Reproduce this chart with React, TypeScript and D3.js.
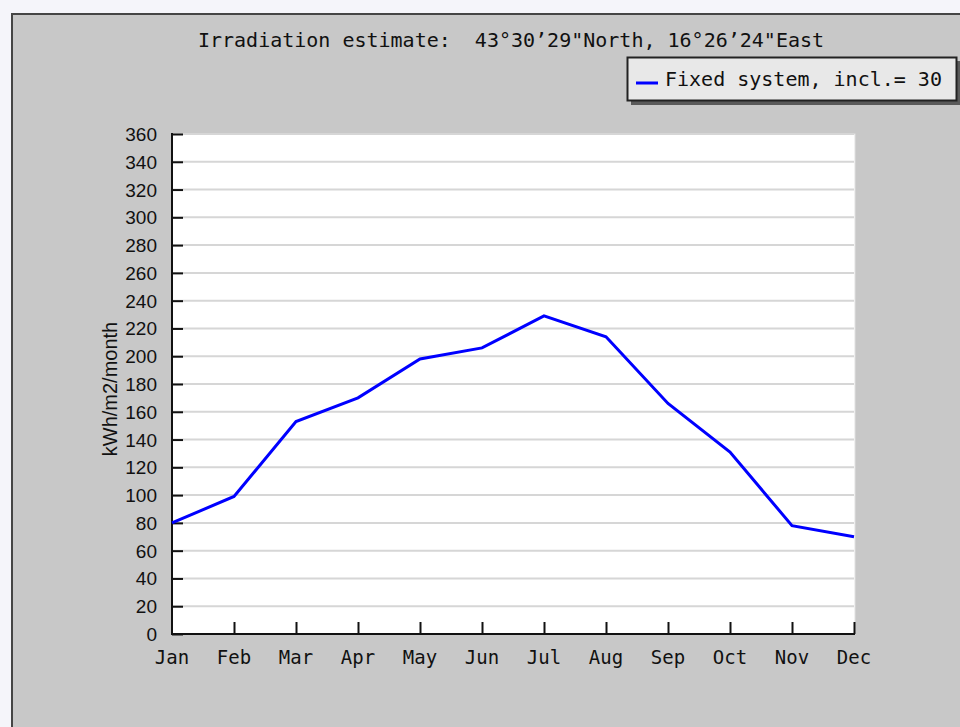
import React, { useEffect, useRef } from "react";
import * as d3 from "d3";

const months = ["Jan", "Feb", "Mar", "Apr", "May", "Jun", "Jul", "Aug", "Sep", "Oct", "Nov", "Dec"];
const irradiation = [80, 99, 153, 170, 198, 206, 229, 214, 166, 131, 78, 70];
const yTicks = d3.range(0, 361, 20);
const title = "Irradiation estimate:  43°30’29\"North, 16°26’24\"East";
const legendLabel = "Fixed system, incl.= 30";
const yLabel = "kWh/m2/month";

export default function App() {
  const ref = useRef<SVGSVGElement>(null);

  useEffect(() => {
    const svg = d3.select(ref.current);
    svg.selectAll("*").remove();

    const left = 172, right = 854, top = 134, bottom = 634;
    const x = d3.scalePoint().domain(months).range([left, right]);
    const y = d3.scaleLinear().domain([0, 360]).range([bottom, top]);

    // page + frame
    svg.append("rect").attr("width", 960).attr("height", 727).attr("fill", "#f5f5fa");
    svg.append("rect")
      .attr("x", 12).attr("y", 14).attr("width", 1000).attr("height", 800)
      .attr("fill", "#c8c8c8").attr("stroke", "#454545").attr("stroke-width", 2);

    // title
    svg.append("text")
      .attr("x", 511).attr("y", 47)
      .attr("text-anchor", "middle")
      .attr("font-family", "DejaVu Sans Mono")
      .attr("font-size", 20)
      .attr("fill", "#111")
      .style("white-space", "pre")
      .text(title);

    // legend
    svg.append("rect").attr("x", 631).attr("y", 61).attr("width", 330).attr("height", 44).attr("fill", "#5a5a5a");
    svg.append("rect").attr("x", 627.5).attr("y", 57.5).attr("width", 329).attr("height", 43)
      .attr("fill", "#e8e8e8").attr("stroke", "#222").attr("stroke-width", 2);
    svg.append("line").attr("x1", 636).attr("x2", 658).attr("y1", 83).attr("y2", 83)
      .attr("stroke", "#0000ff").attr("stroke-width", 3);
    svg.append("text")
      .attr("x", 665).attr("y", 86)
      .attr("font-family", "DejaVu Sans Mono")
      .attr("font-size", 20)
      .attr("fill", "#111")
      .text(legendLabel);

    // plot background
    svg.append("rect")
      .attr("x", left).attr("y", top).attr("width", right - left + 1).attr("height", bottom - top)
      .attr("fill", "#fff").attr("stroke", "#e0e0e0").attr("stroke-width", 1);

    // grid
    svg.append("g").selectAll("line").data(yTicks.filter(d => d > 0)).enter().append("line")
      .attr("x1", left).attr("x2", right)
      .attr("y1", d => y(d)).attr("y2", d => y(d))
      .attr("stroke", "#d6d6d6").attr("stroke-width", 2);

    // y axis
    const yAxis = svg.append("g").attr("transform", `translate(${left},0)`)
      .call(d3.axisRight(y).tickValues(yTicks).tickSize(11).tickFormat(() => ""));
    yAxis.select(".domain").remove();
    yAxis.selectAll("line").attr("stroke", "#111").attr("stroke-width", 2);
    svg.append("line").attr("x1", left).attr("x2", left).attr("y1", top - 1).attr("y2", bottom + 1)
      .attr("stroke", "#111").attr("stroke-width", 2);

    svg.append("g").selectAll("text").data(yTicks).enter().append("text")
      .attr("x", 157).attr("y", d => y(d) + 7)
      .attr("text-anchor", "end")
      .attr("font-family", "Liberation Sans")
      .attr("font-size", 19)
      .attr("fill", "#111")
      .text(d => d);

    // x axis
    const xAxis = svg.append("g").attr("transform", `translate(0,${bottom})`)
      .call(d3.axisTop(x).tickSize(12).tickFormat(() => ""));
    xAxis.select(".domain").remove();
    xAxis.selectAll("line").attr("stroke", "#111").attr("stroke-width", 2);
    xAxis.selectAll(".tick").filter((d: any) => d === "Jan").remove();
    svg.append("line").attr("x1", left - 1).attr("x2", right + 1).attr("y1", bottom).attr("y2", bottom)
      .attr("stroke", "#111").attr("stroke-width", 2);

    svg.append("g").selectAll("text").data(months).enter().append("text")
      .attr("x", d => x(d)!).attr("y", 664)
      .attr("text-anchor", "middle")
      .attr("font-family", "DejaVu Sans Mono")
      .attr("font-size", 19)
      .attr("fill", "#111")
      .text(d => d);

    // y label
    svg.append("text")
      .attr("transform", "translate(117,389) rotate(-90)")
      .attr("text-anchor", "middle")
      .attr("font-family", "Liberation Sans")
      .attr("font-size", 20)
      .attr("fill", "#111")
      .text(yLabel);

    // line
    const line = d3.line<number>().x((d, i) => x(months[i])!).y(d => y(d));
    svg.append("path")
      .datum(irradiation)
      .attr("d", line)
      .attr("fill", "none")
      .attr("stroke", "#0000ff")
      .attr("stroke-width", 3);
  }, []);

  return (
    <div style={{ position: "fixed", left: 0, top: 0 }}>
      <svg ref={ref} width={960} height={727} style={{ display: "block" }} />
    </div>
  );
}
